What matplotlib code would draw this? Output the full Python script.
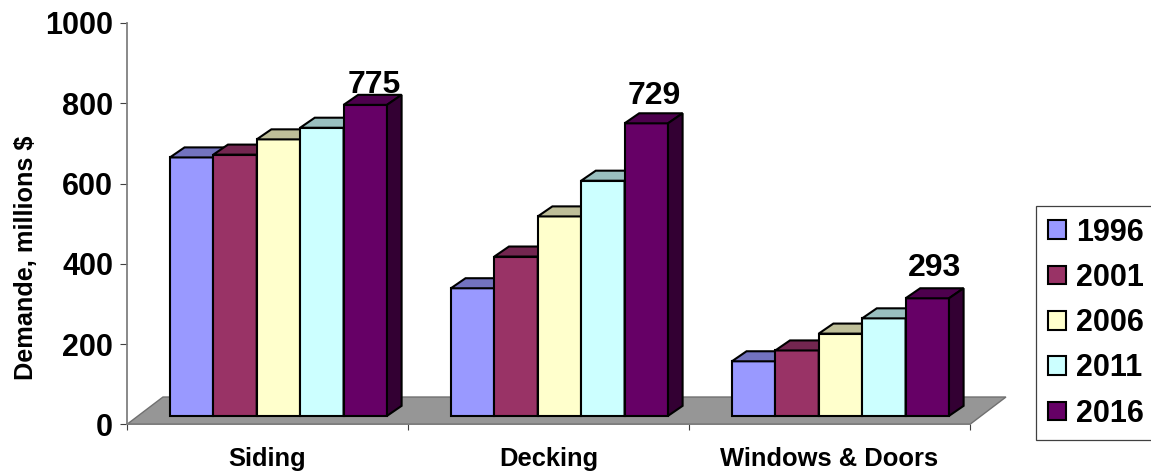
"""
Demand by product and year, drawn as pseudo-3D clustered bars on a grey floor.
"""

import matplotlib
matplotlib.use("Agg")
import matplotlib.pyplot as plt  # plotting
from matplotlib.patches import Patch, Polygon
from matplotlib.transforms import IdentityTransform

# ============================================================
# Data
# ============================================================
categories = ["Siding", "Decking", "Windows & Doors"]
years = ["1996", "2001", "2006", "2011", "2016"]
demand_1996 = [644, 318, 136]
demand_2001 = [651, 397, 163]
demand_2006 = [689, 497, 205]
demand_2011 = [718, 586, 243]
demand_2016 = [775, 729, 293]
series = [demand_1996, demand_2001, demand_2006, demand_2011, demand_2016]
y_ticks = [0, 200, 400, 600, 800, 1000]

# ============================================================
# Styles
# ============================================================
FRONT_COLORS = ["#9999FF", "#993366", "#FFFFCC", "#CCFFFF", "#660066"]
TOP_COLORS = ["#7373BF", "#732650", "#BFBF99", "#99BFBF", "#4D004D"]
SIDE_COLORS = ["#4D4D80", "#4D1A33", "#808066", "#668080", "#330033"]
FLOOR_COLOR = "#969696"
AXIS_COLOR = "#808080"
FONT = "Liberation Sans"

W, H = 1151, 474  # output size (px)
AX_L, AX_R, AX_T, AX_B = 127, 970, 23, 424.3  # plot box (px)

BAR_W = 0.1545  # bar width (category units)
GROUP_W = BAR_W * len(years)
FRONT_DX, FRONT_DY = 0.039, 21  # front face shift from the axis plane
DEPTH_DX, DEPTH_DY = 0.052, 25  # bar depth
FLOOR_DX, FLOOR_DY = 0.128, 68  # floor depth
EDGE_W = 1.5

LABEL_RISE = [12, 19, 22]  # data label baseline above the bar top (px)
LABEL_SHIFT = [2, 1, 0]  # data label shift to the right (px)


def draw_bar(ax, x, value, i):
    """Front face, top and right side of one box."""
    x0, y0 = x + FRONT_DX, FRONT_DY
    x1, y1 = x0 + BAR_W, y0 + value
    edge = dict(edgecolor="black", linewidth=EDGE_W, joinstyle="miter", clip_on=False, zorder=3 + i * 0.1)
    ax.bar(x0, value, BAR_W, bottom=y0, align="edge", color=FRONT_COLORS[i], **edge)
    ax.add_patch(Polygon([(x0, y1), (x1, y1), (x1 + DEPTH_DX, y1 + DEPTH_DY), (x0 + DEPTH_DX, y1 + DEPTH_DY)],
                         facecolor=TOP_COLORS[i], **edge))
    ax.add_patch(Polygon([(x1, y0), (x1, y1), (x1 + DEPTH_DX, y1 + DEPTH_DY), (x1 + DEPTH_DX, y0 + DEPTH_DY)],
                         facecolor=SIDE_COLORS[i], **edge))


fig = plt.figure(figsize=(W / 100, H / 100), dpi=100)
ax = fig.add_axes([AX_L / W, 1 - AX_B / H, (AX_R - AX_L) / W, (AX_B - AX_T) / H])
ax.set_xlim(0, len(categories))
ax.set_ylim(0, 1000)

# --- Floor ---
n_cat = len(categories)
ax.add_patch(Polygon([(0, 0), (n_cat, 0), (n_cat + FLOOR_DX, FLOOR_DY), (FLOOR_DX, FLOOR_DY)],
                     facecolor=FLOOR_COLOR, edgecolor="#707070", linewidth=1.0, clip_on=False, zorder=1))

# --- Bars ---
for c in range(n_cat):
    start = c + 0.5 - GROUP_W / 2
    for i, values in enumerate(series):
        draw_bar(ax, start + i * BAR_W, values[c], i)
    # the newest year carries the value label
    ax.annotate(str(demand_2016[c]),
                xy=(start + (len(years) - 0.5) * BAR_W + FRONT_DX + DEPTH_DX / 2, FRONT_DY + demand_2016[c]),
                xytext=(LABEL_SHIFT[c] * 0.72, LABEL_RISE[c] * 0.72), textcoords="offset points",
                ha="center", va="baseline", fontsize=23, fontweight="bold", family=FONT, zorder=10,
                annotation_clip=False)

# --- Axes ---
for side in ("top", "right"):
    ax.spines[side].set_visible(False)
for side in ("left", "bottom"):
    ax.spines[side].set_color(AXIS_COLOR)
    ax.spines[side].set_linewidth(1.3)
    ax.spines[side].set_zorder(2)

ax.set_yticks(y_ticks)
ax.tick_params(axis="y", length=5, width=0.8, color="#404040", pad=5, labelsize=22)
ax.set_xticks(range(n_cat + 1))
ax.set_xticklabels([])
ax.tick_params(axis="x", which="major", length=4, width=0.8, color="#404040")
ax.set_xticks([c + 0.5 for c in range(n_cat)], minor=True)
ax.set_xticklabels(categories, minor=True)
ax.tick_params(axis="x", which="minor", length=0, pad=16, labelsize=18.4)
for label in ax.get_yticklabels() + ax.get_xticklabels(minor=True):
    label.set_family(FONT)
    label.set_fontweight("bold")

ax.set_ylabel("Demande, millions $", fontsize=18.2, fontweight="bold", family=FONT)
ax.yaxis.set_label_coords((38 - AX_L) / (AX_R - AX_L), (AX_B - 258) / (AX_B - AX_T))

# --- Legend (frame runs off the right edge) ---
handles = [Patch(facecolor=c, edgecolor="black", linewidth=EDGE_W) for c in FRONT_COLORS]
legend = fig.legend(handles, years, loc="upper left",
                    bbox_to_anchor=(1036, H - 206), bbox_transform=IdentityTransform(),
                    borderaxespad=0, prop=dict(family=FONT, weight="bold", size=22),
                    fancybox=False, framealpha=1, edgecolor="#404040",
                    handlelength=0.6, handleheight=0.57, handletextpad=0.32,
                    borderpad=0.38, labelspacing=0.5)
legend.get_frame().set_linewidth(0.9)

fig.savefig("out.png", dpi=100)
